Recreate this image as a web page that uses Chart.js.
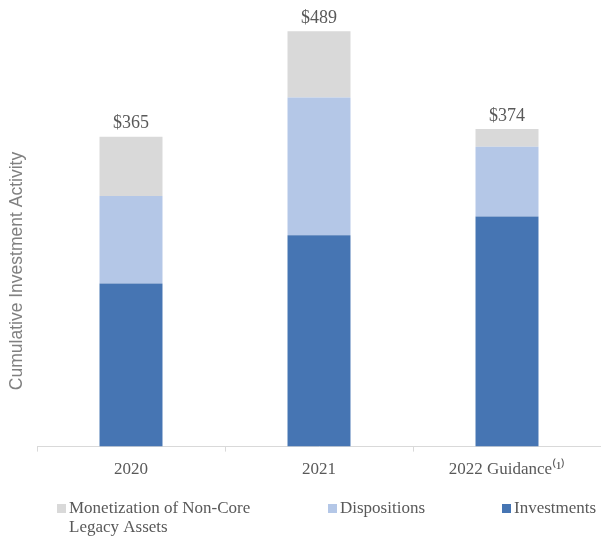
<!DOCTYPE html>
<html>
<head>
<meta charset="utf-8">
<script src="https://cdn.jsdelivr.net/npm/chart.js@4.4.1/dist/chart.umd.min.js"></script>
<style>
  html, body { margin: 0; padding: 0; background: #fff; }
  #wrap { width: 601px; height: 541px; position: relative; }
</style>
</head>
<body>
<div id="wrap"><canvas id="chart"></canvas></div>
<script>
const categories = ['2020', '2021', '2022 Guidance\u207D\u00B9\u207E'];
const investments = [192, 249, 271];
const dispositions = [103, 162, 82];
const monetization = [70, 78, 21];
const yAxisTitle = 'Cumulative Investment Activity';
const legendOrder = [2, 1, 0]; // dataset index per legend slot
const legendText = [['Monetization of Non-Core', 'Legacy Assets'], ['Dispositions'], ['Investments']];

const serif = '"Liberation Serif", "Times New Roman", serif';
const textGray = '#595959';

// totals above bars, rotated axis title and the legend row
const overlay = {
    id: 'overlay',
    afterDraw(chart) {
        const { ctx, scales: { x, y } } = chart;
        ctx.save();
        ctx.fillStyle = textGray;
        ctx.font = '18px ' + serif;
        ctx.textAlign = 'center';
        ctx.textBaseline = 'bottom';
        categories.forEach((c, i) => {
            const total = investments[i] + dispositions[i] + monetization[i];
            ctx.fillText('$' + total, x.getPixelForValue(i), y.getPixelForValue(total) - 4);
        });
        ctx.restore();

        ctx.save();
        ctx.translate(17, 271);
        ctx.rotate(-Math.PI / 2);
        ctx.font = '17.5px "Liberation Sans", Arial, sans-serif';
        ctx.fillStyle = '#808080';
        ctx.textAlign = 'center';
        ctx.textBaseline = 'middle';
        ctx.fillText(yAxisTitle, 0, 0);
        ctx.restore();

        ctx.save();
        const startX = [57, 328, 502];
        ctx.font = '17px ' + serif;
        ctx.textAlign = 'left';
        ctx.textBaseline = 'middle';
        legendOrder.forEach((di, slot) => {
            const ds = chart.data.datasets[di];
            ctx.fillStyle = ds.backgroundColor;
            ctx.fillRect(startX[slot], 504, 9, 9);
            ctx.fillStyle = textGray;
            legendText[slot].forEach((line, k) => {
                ctx.fillText(line, startX[slot] + 12, 509 + k * 19);
            });
        });
        ctx.restore();
    }
};

new Chart(document.getElementById('chart'), {
    type: 'bar',
    data: {
        labels: categories,
        datasets: [
            { label: 'Investments', data: investments, backgroundColor: '#4675b3' },
            { label: 'Dispositions', data: dispositions, backgroundColor: '#b4c7e7' },
            { label: 'Monetization of Non-Core Legacy Assets', data: monetization, backgroundColor: '#d9d9d9' }
        ]
    },
    options: {
        responsive: true,
        maintainAspectRatio: false,
        animation: false,
        layout: { padding: { left: 37, right: 0, top: 22, bottom: 53 } },
        datasets: { bar: { categoryPercentage: 1, barPercentage: 0.335 } },
        scales: {
            x: {
                stacked: true,
                grid: { offset: true, drawOnChartArea: false, drawTicks: true, tickLength: 5, color: '#d9d9d9' },
                border: { display: true, color: '#d9d9d9' },
                ticks: { color: textGray, font: { family: serif, size: 17 }, padding: 8 }
            },
            y: {
                stacked: true,
                display: false,
                min: 0,
                max: 500
            }
        },
        plugins: {
            legend: { display: false },
            tooltip: { enabled: false }
        }
    },
    plugins: [overlay]
});
</script>
</body>
</html>
